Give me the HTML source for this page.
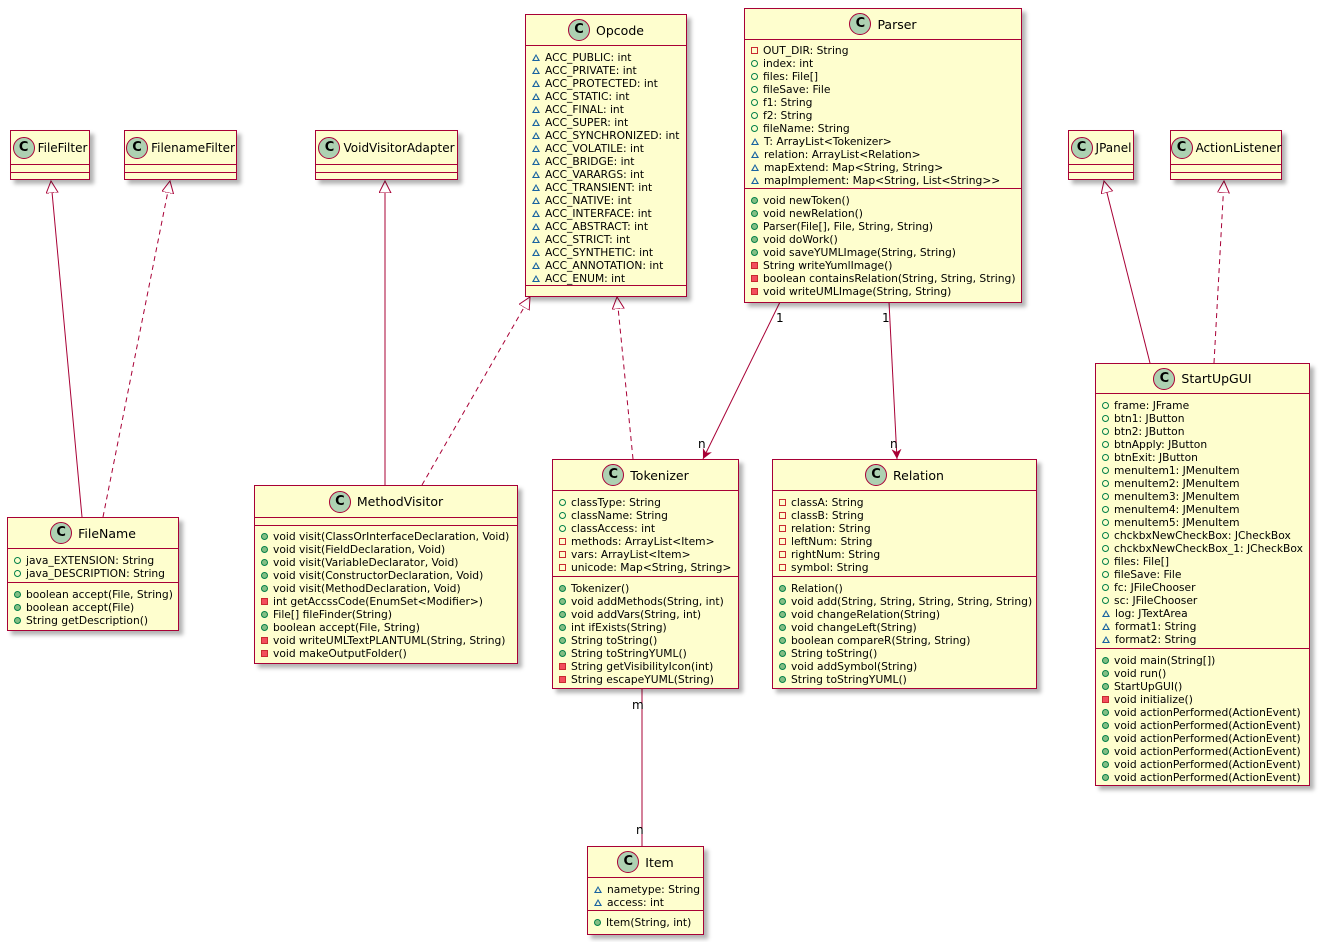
<!DOCTYPE html>
<html><head><meta charset="utf-8"><style>
body{margin:0;width:1319px;height:942px;background:#fff;position:relative;overflow:hidden;font-family:"DejaVu Sans","Liberation Sans",sans-serif;}
.b{position:absolute;box-sizing:border-box;background:#FEFECE;border:1.5px solid #A80036;box-shadow:4px 4px 4px rgba(0,0,0,.3);}
.h{display:flex;align-items:center;justify-content:center;font-size:12.5px;color:#000;border-bottom:1.5px solid #A80036;box-sizing:border-box;white-space:nowrap;}
.c{display:inline-block;width:20px;height:20px;border-radius:50%;background:#ADD1B2;border:1px solid #A80036;text-align:center;line-height:20px;font-weight:bold;font-size:13px;margin-right:6px;flex:none;}
.s .h{font-size:12px;}
.s .c{margin-right:3px;}
.f{box-sizing:border-box;border-bottom:1.5px solid #A80036;padding-top:5px;}
.m{padding-top:5px;}
.r{font-size:10.7px;line-height:13px;height:13px;padding-left:6px;white-space:nowrap;}
.i{display:inline-block;width:7px;height:7px;margin-right:5px;box-sizing:border-box;vertical-align:0px;}
.fo{border:1.3px solid #038048;border-radius:50%;}
.mo{background:#84BE84;border:1px solid #038048;border-radius:50%;}
.fp{border:1.3px solid #C82930;}
.mp{background:#F24D5C;border:1px solid #C82930;}
.ft{width:0;height:0;border-left:4px solid transparent;border-right:4px solid transparent;border-bottom:7px solid #1963A0;position:relative;}
.ft::after{content:"";position:absolute;left:-2.5px;top:2px;border-left:2.5px solid transparent;border-right:2.5px solid transparent;border-bottom:4px solid #FEFECE;}
.lbl{position:absolute;font-size:12px;}
</style></head><body>
<svg width="1319" height="942" style="position:absolute;left:0;top:0">
<defs>
<marker id="tri" markerWidth="14" markerHeight="14" refX="12" refY="6" orient="auto" markerUnits="userSpaceOnUse"><path d="M0,0 L12,6 L0,12 Z" fill="#fff" stroke="#A80036"/></marker>
<marker id="arr" markerWidth="12" markerHeight="12" refX="10" refY="5" orient="auto" markerUnits="userSpaceOnUse"><path d="M0,0 L10,5 L0,10 L3,5 Z" fill="#A80036"/></marker>
</defs>
<g stroke="#A80036" stroke-width="1" fill="none">
<line x1="82" y1="517" x2="51" y2="181" marker-end="url(#tri)"/>
<line x1="103" y1="517" x2="170" y2="181" stroke-dasharray="5,4" marker-end="url(#tri)"/>
<line x1="385" y1="485" x2="385" y2="181" marker-end="url(#tri)"/>
<line x1="422" y1="485" x2="530" y2="297" stroke-dasharray="5,4" marker-end="url(#tri)"/>
<line x1="633" y1="459" x2="617" y2="297" stroke-dasharray="5,4" marker-end="url(#tri)"/>
<line x1="780" y1="302" x2="703" y2="459" marker-end="url(#arr)"/>
<line x1="889" y1="302" x2="897" y2="459" marker-end="url(#arr)"/>
<line x1="642" y1="688" x2="642" y2="846"/>
<line x1="1150" y1="363" x2="1104" y2="181" marker-end="url(#tri)"/>
<line x1="1214" y1="363" x2="1224" y2="181" stroke-dasharray="5,4" marker-end="url(#tri)"/>
</g></svg>
<div class="lbl" style="left:776px;top:311px">1</div>
<div class="lbl" style="left:698px;top:437px">n</div>
<div class="lbl" style="left:882px;top:311px">1</div>
<div class="lbl" style="left:890px;top:437px">n</div>
<div class="lbl" style="left:632px;top:698px">m</div>
<div class="lbl" style="left:636px;top:823px">n</div>

<div class="b s" style="left:10px;top:130px;width:80px;height:50px"><div class="h" style="height:34px"><span class="c">C</span>FileFilter</div><div class="f" style="height:8px;padding:0"></div></div>
<div class="b s" style="left:124px;top:130px;width:113px;height:50px"><div class="h" style="height:34px"><span class="c">C</span>FilenameFilter</div><div class="f" style="height:8px;padding:0"></div></div>
<div class="b s" style="left:315px;top:130px;width:143px;height:50px"><div class="h" style="height:34px"><span class="c">C</span>VoidVisitorAdapter</div><div class="f" style="height:8px;padding:0"></div></div>
<div class="b s" style="left:1068px;top:130px;width:66px;height:50px"><div class="h" style="height:34px"><span class="c">C</span>JPanel</div><div class="f" style="height:8px;padding:0"></div></div>
<div class="b s" style="left:1170px;top:130px;width:112px;height:50px"><div class="h" style="height:34px"><span class="c">C</span>ActionListener</div><div class="f" style="height:8px;padding:0"></div></div>

<div class="b" style="left:525px;top:14px;width:162px;height:283px"><div class="h" style="height:31px"><span class="c">C</span>Opcode</div><div class="f" style="height:240px">
<div class="r"><span class="i ft"></span>ACC_PUBLIC: int</div><div class="r"><span class="i ft"></span>ACC_PRIVATE: int</div><div class="r"><span class="i ft"></span>ACC_PROTECTED: int</div><div class="r"><span class="i ft"></span>ACC_STATIC: int</div><div class="r"><span class="i ft"></span>ACC_FINAL: int</div><div class="r"><span class="i ft"></span>ACC_SUPER: int</div><div class="r"><span class="i ft"></span>ACC_SYNCHRONIZED: int</div><div class="r"><span class="i ft"></span>ACC_VOLATILE: int</div><div class="r"><span class="i ft"></span>ACC_BRIDGE: int</div><div class="r"><span class="i ft"></span>ACC_VARARGS: int</div><div class="r"><span class="i ft"></span>ACC_TRANSIENT: int</div><div class="r"><span class="i ft"></span>ACC_NATIVE: int</div><div class="r"><span class="i ft"></span>ACC_INTERFACE: int</div><div class="r"><span class="i ft"></span>ACC_ABSTRACT: int</div><div class="r"><span class="i ft"></span>ACC_STRICT: int</div><div class="r"><span class="i ft"></span>ACC_SYNTHETIC: int</div><div class="r"><span class="i ft"></span>ACC_ANNOTATION: int</div><div class="r"><span class="i ft"></span>ACC_ENUM: int</div></div></div>

<div class="b" style="left:744px;top:8px;width:278px;height:295px"><div class="h" style="height:31px"><span class="c">C</span>Parser</div><div class="f" style="height:149px;padding-top:4px">
<div class="r"><span class="i fp"></span>OUT_DIR: String</div><div class="r"><span class="i fo"></span>index: int</div><div class="r"><span class="i fo"></span>files: File[]</div><div class="r"><span class="i fo"></span>fileSave: File</div><div class="r"><span class="i fo"></span>f1: String</div><div class="r"><span class="i fo"></span>f2: String</div><div class="r"><span class="i fo"></span>fileName: String</div><div class="r"><span class="i ft"></span>T: ArrayList&lt;Tokenizer&gt;</div><div class="r"><span class="i ft"></span>relation: ArrayList&lt;Relation&gt;</div><div class="r"><span class="i ft"></span>mapExtend: Map&lt;String, String&gt;</div><div class="r"><span class="i ft"></span>mapImplement: Map&lt;String, List&lt;String&gt;&gt;</div></div><div class="m">
<div class="r"><span class="i mo"></span>void newToken()</div><div class="r"><span class="i mo"></span>void newRelation()</div><div class="r"><span class="i mo"></span>Parser(File[], File, String, String)</div><div class="r"><span class="i mo"></span>void doWork()</div><div class="r"><span class="i mo"></span>void saveYUMLImage(String, String)</div><div class="r"><span class="i mp"></span>String writeYumlImage()</div><div class="r"><span class="i mp"></span>boolean containsRelation(String, String, String)</div><div class="r"><span class="i mp"></span>void writeUMLImage(String, String)</div></div></div>

<div class="b" style="left:1095px;top:363px;width:215px;height:423px"><div class="h" style="height:30px"><span class="c">C</span>StartUpGUI</div><div class="f" style="height:255px">
<div class="r"><span class="i fo"></span>frame: JFrame</div><div class="r"><span class="i fo"></span>btn1: JButton</div><div class="r"><span class="i fo"></span>btn2: JButton</div><div class="r"><span class="i fo"></span>btnApply: JButton</div><div class="r"><span class="i fo"></span>btnExit: JButton</div><div class="r"><span class="i fo"></span>menuItem1: JMenuItem</div><div class="r"><span class="i fo"></span>menuItem2: JMenuItem</div><div class="r"><span class="i fo"></span>menuItem3: JMenuItem</div><div class="r"><span class="i fo"></span>menuItem4: JMenuItem</div><div class="r"><span class="i fo"></span>menuItem5: JMenuItem</div><div class="r"><span class="i fo"></span>chckbxNewCheckBox: JCheckBox</div><div class="r"><span class="i fo"></span>chckbxNewCheckBox_1: JCheckBox</div><div class="r"><span class="i fo"></span>files: File[]</div><div class="r"><span class="i fo"></span>fileSave: File</div><div class="r"><span class="i fo"></span>fc: JFileChooser</div><div class="r"><span class="i fo"></span>sc: JFileChooser</div><div class="r"><span class="i ft"></span>log: JTextArea</div><div class="r"><span class="i ft"></span>format1: String</div><div class="r"><span class="i ft"></span>format2: String</div></div><div class="m">
<div class="r"><span class="i mo"></span>void main(String[])</div><div class="r"><span class="i mo"></span>void run()</div><div class="r"><span class="i mo"></span>StartUpGUI()</div><div class="r"><span class="i mp"></span>void initialize()</div><div class="r"><span class="i mo"></span>void actionPerformed(ActionEvent)</div><div class="r"><span class="i mo"></span>void actionPerformed(ActionEvent)</div><div class="r"><span class="i mo"></span>void actionPerformed(ActionEvent)</div><div class="r"><span class="i mo"></span>void actionPerformed(ActionEvent)</div><div class="r"><span class="i mo"></span>void actionPerformed(ActionEvent)</div><div class="r"><span class="i mo"></span>void actionPerformed(ActionEvent)</div></div></div>

<div class="b" style="left:7px;top:517px;width:172px;height:114px"><div class="h" style="height:31px"><span class="c">C</span>FileName</div><div class="f" style="height:34px">
<div class="r"><span class="i fo"></span>java_EXTENSION: String</div><div class="r"><span class="i fo"></span>java_DESCRIPTION: String</div></div><div class="m">
<div class="r"><span class="i mo"></span>boolean accept(File, String)</div><div class="r"><span class="i mo"></span>boolean accept(File)</div><div class="r"><span class="i mo"></span>String getDescription()</div></div></div>

<div class="b" style="left:254px;top:485px;width:264px;height:179px"><div class="h" style="height:32px"><span class="c">C</span>MethodVisitor</div><div class="f" style="height:8px;padding:0"></div><div class="m" style="padding-top:4px">
<div class="r"><span class="i mo"></span>void visit(ClassOrInterfaceDeclaration, Void)</div><div class="r"><span class="i mo"></span>void visit(FieldDeclaration, Void)</div><div class="r"><span class="i mo"></span>void visit(VariableDeclarator, Void)</div><div class="r"><span class="i mo"></span>void visit(ConstructorDeclaration, Void)</div><div class="r"><span class="i mo"></span>void visit(MethodDeclaration, Void)</div><div class="r"><span class="i mp"></span>int getAccssCode(EnumSet&lt;Modifier&gt;)</div><div class="r"><span class="i mo"></span>File[] fileFinder(String)</div><div class="r"><span class="i mo"></span>boolean accept(File, String)</div><div class="r"><span class="i mp"></span>void writeUMLTextPLANTUML(String, String)</div><div class="r"><span class="i mp"></span>void makeOutputFolder()</div></div></div>

<div class="b" style="left:552px;top:459px;width:187px;height:230px"><div class="h" style="height:31px"><span class="c">C</span>Tokenizer</div><div class="f" style="height:86px">
<div class="r"><span class="i fo"></span>classType: String</div><div class="r"><span class="i fo"></span>className: String</div><div class="r"><span class="i fo"></span>classAccess: int</div><div class="r"><span class="i fp"></span>methods: ArrayList&lt;Item&gt;</div><div class="r"><span class="i fp"></span>vars: ArrayList&lt;Item&gt;</div><div class="r"><span class="i fp"></span>unicode: Map&lt;String, String&gt;</div></div><div class="m">
<div class="r"><span class="i mo"></span>Tokenizer()</div><div class="r"><span class="i mo"></span>void addMethods(String, int)</div><div class="r"><span class="i mo"></span>void addVars(String, int)</div><div class="r"><span class="i mo"></span>int ifExists(String)</div><div class="r"><span class="i mo"></span>String toString()</div><div class="r"><span class="i mo"></span>String toStringYUML()</div><div class="r"><span class="i mp"></span>String getVisibilityIcon(int)</div><div class="r"><span class="i mp"></span>String escapeYUML(String)</div></div></div>

<div class="b" style="left:772px;top:459px;width:265px;height:230px"><div class="h" style="height:31px"><span class="c">C</span>Relation</div><div class="f" style="height:86px">
<div class="r"><span class="i fp"></span>classA: String</div><div class="r"><span class="i fp"></span>classB: String</div><div class="r"><span class="i fp"></span>relation: String</div><div class="r"><span class="i fp"></span>leftNum: String</div><div class="r"><span class="i fp"></span>rightNum: String</div><div class="r"><span class="i fp"></span>symbol: String</div></div><div class="m">
<div class="r"><span class="i mo"></span>Relation()</div><div class="r"><span class="i mo"></span>void add(String, String, String, String, String)</div><div class="r"><span class="i mo"></span>void changeRelation(String)</div><div class="r"><span class="i mo"></span>void changeLeft(String)</div><div class="r"><span class="i mo"></span>boolean compareR(String, String)</div><div class="r"><span class="i mo"></span>String toString()</div><div class="r"><span class="i mo"></span>void addSymbol(String)</div><div class="r"><span class="i mo"></span>String toStringYUML()</div></div></div>

<div class="b" style="left:587px;top:846px;width:117px;height:89px"><div class="h" style="height:31px"><span class="c">C</span>Item</div><div class="f" style="height:33px">
<div class="r"><span class="i ft"></span>nametype: String</div><div class="r"><span class="i ft"></span>access: int</div></div><div class="m">
<div class="r"><span class="i mo"></span>Item(String, int)</div></div></div>
</body></html>
